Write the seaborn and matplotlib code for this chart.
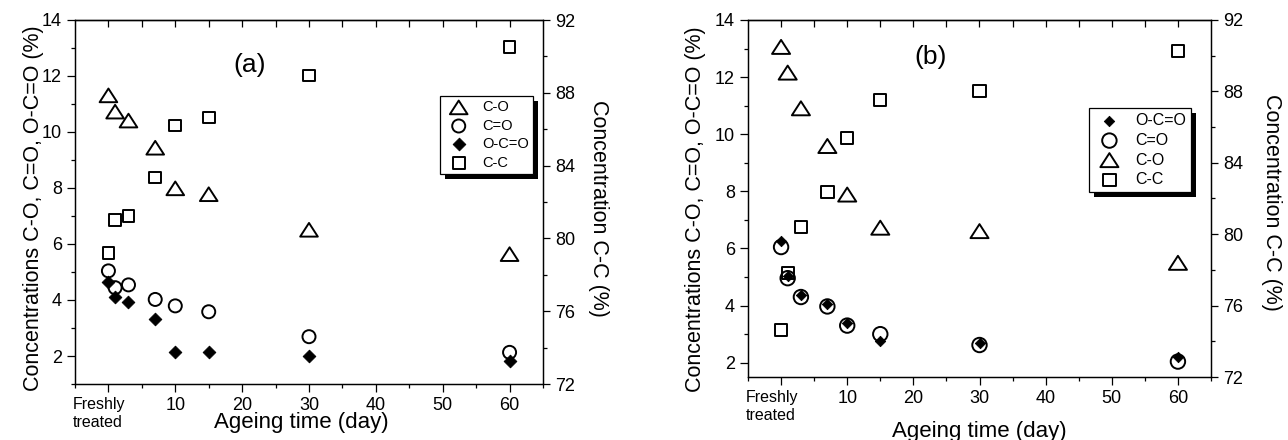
import numpy as np
import matplotlib
matplotlib.use("Agg")
import matplotlib.pyplot as plt
import seaborn as sns
from matplotlib.path import Path
from matplotlib.patches import Rectangle
from matplotlib.transforms import ScaledTranslation
from matplotlib.ticker import MultipleLocator

# ---------------- data ----------------
days = [0, 1, 3, 7, 10, 15, 30, 60]

# panel (a)
a_co = [11.3, 10.72, 10.4, 9.43, 7.98, 7.77, 6.5, 5.63]
a_c_eq_o = [5.04, 4.44, 4.54, 4.02, 3.79, 3.58, 2.69, 2.13]
a_o_c_eq_o = [4.66, 4.10, 3.93, 3.32, 2.15, 2.13, 2.01, 1.83]
a_cc = [79.2, 81.0, 81.25, 83.35, 86.2, 86.65, 88.95, 90.5]

# panel (b)
b_co = [13.05, 12.15, 10.9, 9.58, 7.88, 6.72, 6.6, 5.49]
b_c_eq_o = [6.05, 4.96, 4.3, 3.97, 3.3, 3.0, 2.62, 2.04]
b_o_c_eq_o = [6.25, 5.02, 4.38, 4.05, 3.38, 2.76, 2.68, 2.19]
b_cc = [74.65, 77.83, 80.39, 82.35, 85.4, 87.51, 88.02, 90.26]

x_tick_values = [0, 10, 20, 30, 40, 50, 60]
x_tick_labels = ["Freshly\ntreated", "10", "20", "30", "40", "50", "60"]
left_ticks = [2, 4, 6, 8, 10, 12, 14]
right_ticks = [72, 76, 80, 84, 88, 92]

xlabel = "Ageing time (day)"
ylabel_left = "Concentrations C-O, C=O, O-C=O (%)"
ylabel_right = "Concentration C-C (%)"

# ---------------- style ----------------
sns.set_theme(style="ticks")
plt.rcParams["font.family"] = ["Liberation Sans", "DejaVu Sans"]
plt.rcParams.update({
    "axes.edgecolor": "black",
    "axes.linewidth": 0.9,
    "xtick.color": "black",
    "ytick.color": "black",
    "text.color": "black",
    "axes.labelcolor": "black",
})

TRI = Path([(-1, -0.75), (1, -0.75), (0, 0.8), (-1, -0.75)], closed=True)

fig = plt.figure(figsize=(12.88, 4.4), dpi=100)


def draw_panel(rect, series, tag, tag_pos, leg_anchor, leg_fs, leg_ls, ylim_left,
               xlab_y, ylab_l, ylab_r):
    ax = fig.add_axes(rect)
    ax2 = ax.twinx()
    ax.patch.set_visible(False)
    ax2.patch.set_visible(False)

    handles = {}
    for label, vals, marker, size, side, filled in series:
        target = ax2 if side == "R" else ax
        sns.scatterplot(
            x=days, y=vals, ax=target, marker=marker, s=size,
            color="black", facecolor="black" if filled else "none",
            edgecolor="black", linewidth=0.6 if filled else 1.4,
            label=label, legend=False, zorder=3,
        )
        handles[label] = target.collections[-1]

    ax.set_xlim(-5, 65)
    ax.set_ylim(*ylim_left)
    ax2.set_ylim(72, 92)

    ax.set_xticks(x_tick_values)
    ax.set_xticklabels(x_tick_labels)
    ax.xaxis.set_minor_locator(MultipleLocator(5))
    ax.set_yticks(left_ticks)
    ax.yaxis.set_minor_locator(MultipleLocator(1))
    ax2.set_yticks(right_ticks)
    ax2.yaxis.set_minor_locator(MultipleLocator(2))

    for a in (ax, ax2):
        for sp in a.spines.values():
            sp.set_visible(True)
            sp.set_color("black")
            sp.set_linewidth(0.9)
    ax.tick_params(axis="both", which="major", direction="out", length=6,
                   width=0.9, labelsize=13, top=False, right=False)
    ax.tick_params(axis="both", which="minor", direction="out", length=3,
                   width=0.9, top=False, right=False)
    ax2.tick_params(axis="y", which="major", direction="out", length=5,
                    width=0.9, labelsize=13)
    ax2.tick_params(axis="y", which="minor", direction="out", length=3, width=0.9)

    # inward ticks along the top edge
    sec = ax.secondary_xaxis("top")
    sec.set_xticks(list(range(0, 65, 5)))
    sec.tick_params(axis="x", direction="in", length=5, width=0.9,
                    labeltop=False)
    sec.spines["top"].set_linewidth(0.9)

    first = ax.get_xticklabels()[0]
    first.set_multialignment("left")
    first.set_fontsize(11.5)
    first.set_transform(first.get_transform() +
                        ScaledTranslation(-0.09, 0, fig.dpi_scale_trans))

    ax.set_xlabel(xlabel, fontsize=16)
    ax.xaxis.set_label_coords(xlab_y[0], xlab_y[1])
    ax.set_ylabel(ylabel_left, fontsize=15.5)
    ax.yaxis.set_label_coords(ylab_l[0], ylab_l[1])
    ax2.set_ylabel(ylabel_right, fontsize=15.5, rotation=270)
    ax2.yaxis.label.set_verticalalignment("bottom")
    ax2.yaxis.set_label_coords(ylab_r[0], ylab_r[1])

    ax.text(tag_pos[0], tag_pos[1], tag, transform=ax.transAxes,
            ha="center", va="center", fontsize=19)

    leg = ax2.legend([handles[s[0]] for s in series], [s[0] for s in series],
                     loc="upper right", bbox_to_anchor=leg_anchor,
                     frameon=True, fancybox=False, shadow=False,
                     fontsize=leg_fs, borderpad=0.3, labelspacing=leg_ls,
                     handletextpad=0.6, handlelength=2.0, borderaxespad=0)
    leg.get_frame().set_edgecolor("black")
    leg.get_frame().set_linewidth(0.9)
    leg.get_frame().set_facecolor("white")
    leg.get_frame().set_alpha(1)
    leg.set_zorder(6)
    return ax, ax2, leg


panel_a = [
    ("C-O", a_co, TRI, 161, "L", False),
    ("C=O", a_c_eq_o, "o", 88, "L", False),
    ("O-C=O", a_o_c_eq_o, "D", 42, "L", True),
    ("C-C", a_cc, "s", 71, "R", False),
]
panel_b = [
    ("O-C=O", b_o_c_eq_o, "D", 28, "L", True),
    ("C=O", b_c_eq_o, "o", 108, "L", False),
    ("C-O", b_co, TRI, 169, "L", False),
    ("C-C", b_cc, "s", 79, "R", False),
]

W, H = 1288.0, 440.0
rect_a = [75 / W, (H - 384) / H, 468 / W, 364 / H]
rect_b = [748 / W, (H - 377) / H, 463 / W, 357 / H]

res_a = draw_panel(rect_a, panel_a, "(a)", (0.374, 0.876), (0.979, 0.791), 10.5, 0.3,
                   (1, 14), (0.483, -0.077), (-0.067, 0.4835), (1.097, 0.481))
res_b = draw_panel(rect_b, panel_b, "(b)", (0.395, 0.896), (0.956, 0.753), 11.5, 0.3,
                   (1.5, 14), (0.5, -0.122), (-0.091, 0.47), (1.107, 0.489))

# black drop shadows behind legends
fig.canvas.draw()
renderer = fig.canvas.get_renderer()
for ax, ax2, leg in (res_a, res_b):
    bb = leg.get_frame().get_window_extent(renderer)
    inv = ax2.transAxes.inverted()
    (x0, y0) = inv.transform((bb.x0 + 5, bb.y0 - 5))
    (x1, y1) = inv.transform((bb.x1 + 5, bb.y1 - 5))
    ax2.add_patch(Rectangle((x0, y0), x1 - x0, y1 - y0, transform=ax2.transAxes,
                            facecolor="black", edgecolor="none", zorder=5.5,
                            clip_on=False))

fig.savefig("out.png", dpi=100)
